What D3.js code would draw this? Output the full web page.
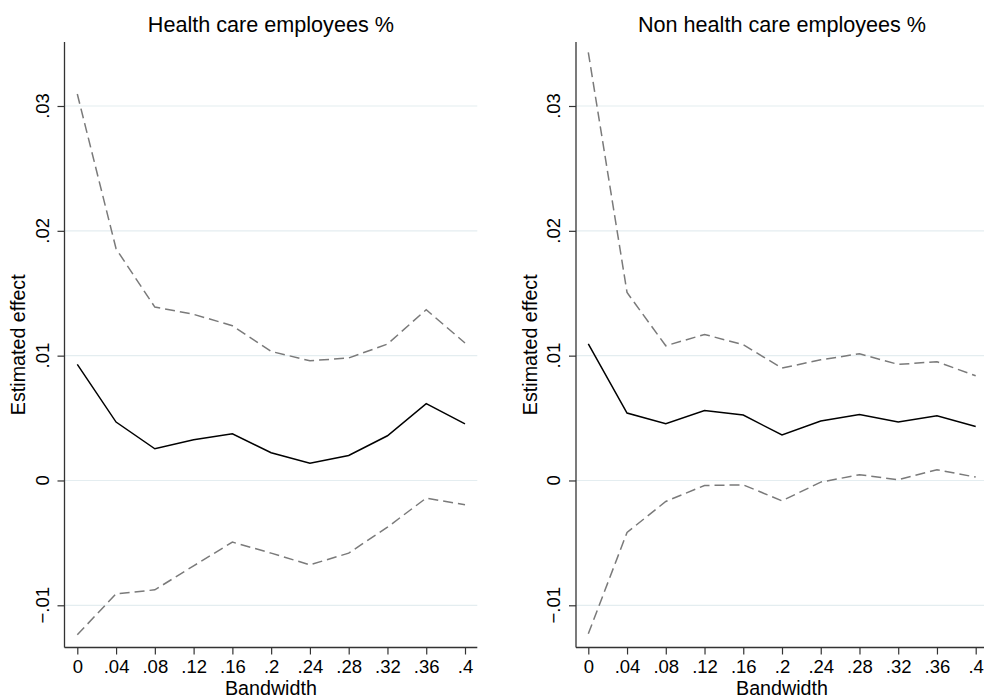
<!DOCTYPE html>
<html>
<head>
<meta charset="utf-8">
<script src="https://cdn.jsdelivr.net/npm/d3@7"></script>
<style>
  html, body { margin: 0; padding: 0; background: #ffffff; }
  svg { display: block; font-family: "Liberation Sans", Arial, Helvetica, sans-serif; }
</style>
</head>
<body>
<svg id="chart" width="984" height="698"></svg>
<script>
// Bandwidth grid shared by both panels
const bandwidths = [0, 0.04, 0.08, 0.12, 0.16, 0.2, 0.24, 0.28, 0.32, 0.36, 0.4];
const xTickLabels = ["0", ".04", ".08", ".12", ".16", ".2", ".24", ".28", ".32", ".36", ".4"];
const yTicks = [-0.01, 0, 0.01, 0.02, 0.03];
const yTickLabels = ["\u2212.01", "0", ".01", ".02", ".03"];

// Health care employees %: point estimate and confidence bounds
const healthEstimate = [0.0093, 0.00468, 0.00254, 0.00326, 0.00374, 0.00222, 0.00139, 0.002, 0.00358, 0.00615, 0.00454];
const healthUpper    = [0.03096, 0.01856, 0.01389, 0.01331, 0.0124, 0.01034, 0.00959, 0.00981, 0.01093, 0.01368, 0.01101];
const healthLower    = [-0.01236, -0.00908, -0.00876, -0.00684, -0.00494, -0.00582, -0.00676, -0.00582, -0.00374, -0.00141, -0.00195];

// Non health care employees %: point estimate and confidence bounds
const nonHealthEstimate = [0.01095, 0.0054, 0.00454, 0.00561, 0.00524, 0.00364, 0.00476, 0.00529, 0.00468, 0.00518, 0.00433];
const nonHealthUpper    = [0.0343, 0.01506, 0.01079, 0.0117, 0.01087, 0.009, 0.00967, 0.01015, 0.0093, 0.00951, 0.00839];
const nonHealthLower    = [-0.01228, -0.00416, -0.00168, -0.0004, -0.00035, -0.00163, -0.00013, 0.00046, 0.00006, 0.00086, 0.00027];

const panels = [
  { title: "Health care employees %", est: healthEstimate, lo: healthLower, hi: healthUpper,
    left: 64.5, right: 477.3, x0: 77.3, x1: 465 },
  { title: "Non health care employees %", est: nonHealthEstimate, lo: nonHealthLower, hi: nonHealthUpper,
    left: 576, right: 988, x0: 588.3, x1: 975.7 }
];

const plotTop = 42, plotBottom = 647.5;
const svg = d3.select("#chart");

const y = d3.scaleLinear().domain([-0.01, 0.03]).range([605.3, 106]);

panels.forEach(p => {
  const x = d3.scaleLinear().domain([0, 0.4]).range([p.x0, p.x1]);
  const g = svg.append("g");

  // horizontal gridlines
  g.append("g").selectAll("line").data(yTicks).join("line")
    .attr("x1", p.left).attr("x2", p.right)
    .attr("y1", d => y(d)).attr("y2", d => y(d))
    .attr("stroke", "#e4edf0").attr("stroke-width", 1.2);

  // x axis
  const xAxis = d3.axisBottom(x).tickValues(bandwidths).tickSize(7).tickPadding(5)
    .tickFormat((d, i) => xTickLabels[i]);
  const gx = g.append("g").attr("transform", `translate(0,${plotBottom})`).call(xAxis);
  gx.select(".domain").remove();
  gx.selectAll(".tick line").attr("stroke", "#333").attr("stroke-width", 1.2);
  gx.selectAll(".tick text").attr("fill", "#000").attr("font-size", 18.5)
    .attr("font-family", "Liberation Sans, Arial, sans-serif").attr("dy", "0.71em");
  g.append("line").attr("x1", p.left).attr("x2", p.right)
    .attr("y1", plotBottom).attr("y2", plotBottom)
    .attr("stroke", "#333").attr("stroke-width", 1.3);

  // y axis
  const yAxis = d3.axisLeft(y).tickValues(yTicks).tickSize(7).tickFormat(() => "");
  const gy = g.append("g").attr("transform", `translate(${p.left},0)`).call(yAxis);
  gy.select(".domain").remove();
  gy.selectAll(".tick line").attr("stroke", "#333").attr("stroke-width", 1.2);
  g.append("line").attr("x1", p.left).attr("x2", p.left)
    .attr("y1", plotTop).attr("y2", plotBottom)
    .attr("stroke", "#333").attr("stroke-width", 1.3);

  // rotated y tick labels
  g.append("g").selectAll("text").data(yTicks).join("text")
    .attr("transform", d => `translate(${p.left - 16},${y(d)}) rotate(-90)`)
    .attr("text-anchor", "middle").attr("font-size", 18.5).attr("fill", "#000")
    .text((d, i) => yTickLabels[i]);

  // axis titles
  g.append("text")
    .attr("transform", `translate(${p.left - 39.5},${(plotTop + plotBottom) / 2}) rotate(-90)`)
    .attr("text-anchor", "middle").attr("font-size", 19.7).attr("fill", "#000")
    .text("Estimated effect");
  g.append("text")
    .attr("x", (p.left + p.right) / 2).attr("y", 695)
    .attr("text-anchor", "middle").attr("font-size", 19.7).attr("fill", "#000")
    .text("Bandwidth");

  // panel title
  g.append("text")
    .attr("x", (p.left + p.right) / 2).attr("y", 31.5)
    .attr("text-anchor", "middle").attr("font-size", 21.6).attr("fill", "#000")
    .text(p.title);

  const line = d3.line().x((d, i) => x(bandwidths[i])).y(d => y(d));

  // confidence bounds (dashed)
  [p.hi, p.lo].forEach(series => {
    g.append("path").datum(series).attr("d", line)
      .attr("fill", "none").attr("stroke", "#7a7a7a").attr("stroke-width", 1.5)
      .attr("stroke-dasharray", "10,5");
  });

  // point estimates (solid)
  g.append("path").datum(p.est).attr("d", line)
    .attr("fill", "none").attr("stroke", "#000").attr("stroke-width", 1.5);
});
</script>
</body>
</html>
